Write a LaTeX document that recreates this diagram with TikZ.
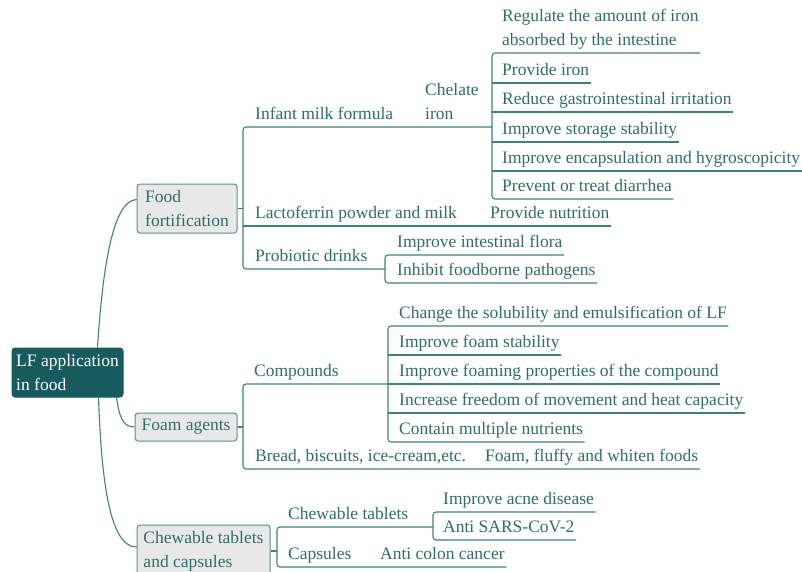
\documentclass[tikz,border=0pt]{standalone}
\usepackage{fontspec}
\setmainfont{Liberation Serif}
\usetikzlibrary{calc}
\definecolor{txtc}{HTML}{2E6E6A}
\definecolor{lnc}{HTML}{3F817C}
\definecolor{rootc}{HTML}{175B5E}
\definecolor{boxf}{HTML}{E8E8E8}
\definecolor{boxd}{HTML}{5A8F8B}
\begin{document}
\begin{tikzpicture}[x=1pt,y=-1pt,
 leaf/.style={anchor=south west, inner xsep=1.5pt, inner ysep=2pt, text depth=5pt, text=txtc, font=\fontsize{17.5}{24.5}\selectfont},
 ln/.style={draw=lnc, line width=1.1pt},
 rc/.style={rounded corners=3pt},
 topic/.style={draw=boxd, fill=boxf, line width=1pt, rounded corners=3pt, text=txtc, align=left, inner sep=0pt, font=\fontsize{17.5}{24}\selectfont},
]
\useasboundingbox (0,0) rectangle (802,571);
\clip (0,0) rectangle (802,571);

% topics
\node[topic, fill=rootc, draw=rootc, text=white, minimum width=111, minimum height=49] (root) at (67.5,372.5) {LF application\\in food};
\node[topic, minimum width=100, minimum height=49] (food) at (187,208.5) {Food\\fortification};
\node[topic, minimum width=102, minimum height=28] (foam) at (186,427) {Foam agents};
\node[topic, minimum width=133, minimum height=52] (chew) at (203.5,551) {Chewable tablets\\and capsules};

% bracket x positions
\coordinate (fbx) at (243,0);
\coordinate (ibx) at (492,0);
\coordinate (pbx) at (385,0);
\coordinate (abx) at (243,0);
\coordinate (cbx) at (388,0);
\coordinate (tbx) at (277,0);
\coordinate (sbx) at (433,0);

% leaves
\node[leaf] (inf) at (253.5,127) {Infant milk formula};
\node[leaf] (chel) at (423.5,127) {\begin{tabular}[b]{@{}l@{}}Chelate\\iron\end{tabular}};
\node[leaf] (reg) at (500.5,53) {\begin{tabular}[b]{@{}l@{}}Regulate the amount of iron\\absorbed by the intestine\end{tabular}};
\node[leaf] (prov) at (500.5,83) {Provide iron};
\node[leaf] (red) at (500.5,112) {Reduce gastrointestinal irritation};
\node[leaf] (stor) at (500.5,142) {Improve storage stability};
\node[leaf] (enc) at (500.5,171) {Improve encapsulation and hygroscopicity};
\node[leaf] (prev) at (500.5,199) {Prevent or treat diarrhea};
\node[leaf] (lac) at (253.5,226) {Lactoferrin powder and milk};
\node[leaf] (nut) at (488.5,226) {Provide nutrition};
\node[leaf] (pro) at (253.5,269) {Probiotic drinks};
\node[leaf] (flora) at (395.5,255) {Improve intestinal flora};
\node[leaf] (inh) at (395.5,283) {Inhibit foodborne pathogens};
\node[leaf] (comp) at (252.5,384) {Compounds};
\node[leaf] (chg) at (397.5,326) {Change the solubility and emulsification of LF};
\node[leaf] (fst) at (397.5,355) {Improve foam stability};
\node[leaf] (fpr) at (397.5,384) {Improve foaming properties of the compound};
\node[leaf] (frd) at (397.5,413) {Increase freedom of movement and heat capacity};
\node[leaf] (cnt) at (397.5,442) {Contain multiple nutrients};
\node[leaf] (brd) at (253.5,469) {Bread, biscuits, ice-cream,etc.};
\node[leaf] (fluf) at (483.5,469) {Foam, fluffy and whiten foods};
\node[leaf] (ctab) at (286.5,527) {Chewable tablets};
\node[leaf] (acne) at (441.5,512) {Improve acne disease};
\node[leaf] (sars) at (441.5,540) {Anti SARS-CoV-2};
\node[leaf] (caps) at (286.5,567) {Capsules};
\node[leaf] (colon) at (378.5,567) {Anti colon cancer};

% root curves
\draw[ln] ($(root.north west)+(86,0)$) .. controls +(5,-78) and +(-24,1) .. ($(food.west)+(0,-9)$);
\draw[ln] ($(root.south west)+(105,0)$) .. controls +(3,21) and +(-11,0) .. (foam.west);
\draw[ln] ($(root.south west)+(87,0)$) .. controls +(3,83) and +(-27,0) .. ($(chew.west)+(0,-4)$);

% food fortification
\draw[ln] (food.east) -- (fbx|-food.east);
\draw[ln,rc] (ibx|-inf.south) -- (fbx|-inf.south) -- (fbx|-pro.south) -- (pbx|-pro.south);
\draw[ln] (fbx|-lac.south) -- (nut.south east);
\draw[ln,rc] (reg.south east) -- (ibx|-reg.south) -- (ibx|-prev.south) -- (prev.south east);
\foreach \n in {prov,red,stor,enc} \draw[ln] (ibx|-\n.south) -- (\n.south east);
\draw[ln,rc] (flora.south east) -- (pbx|-flora.south) -- (pbx|-inh.south) -- (inh.south east);

% foam agents
\draw[ln] (foam.east) -- (abx|-foam.east);
\draw[ln,rc] (cbx|-comp.south) -- (abx|-comp.south) -- (abx|-brd.south) -- (fluf.south east);
\draw[ln,rc] (chg.south east) -- (cbx|-chg.south) -- (cbx|-cnt.south) -- (cnt.south east);
\foreach \n in {fst,fpr,frd} \draw[ln] (cbx|-\n.south) -- (\n.south east);

% chewable
\draw[ln] (chew.east) -- (tbx|-chew.east);
\draw[ln,rc] (sbx|-ctab.south) -- (tbx|-ctab.south) -- (tbx|-caps.south) -- (colon.south east);
\draw[ln,rc] (acne.south east) -- (sbx|-acne.south) -- (sbx|-sars.south) -- (sars.south east);
\end{tikzpicture}
\end{document}
